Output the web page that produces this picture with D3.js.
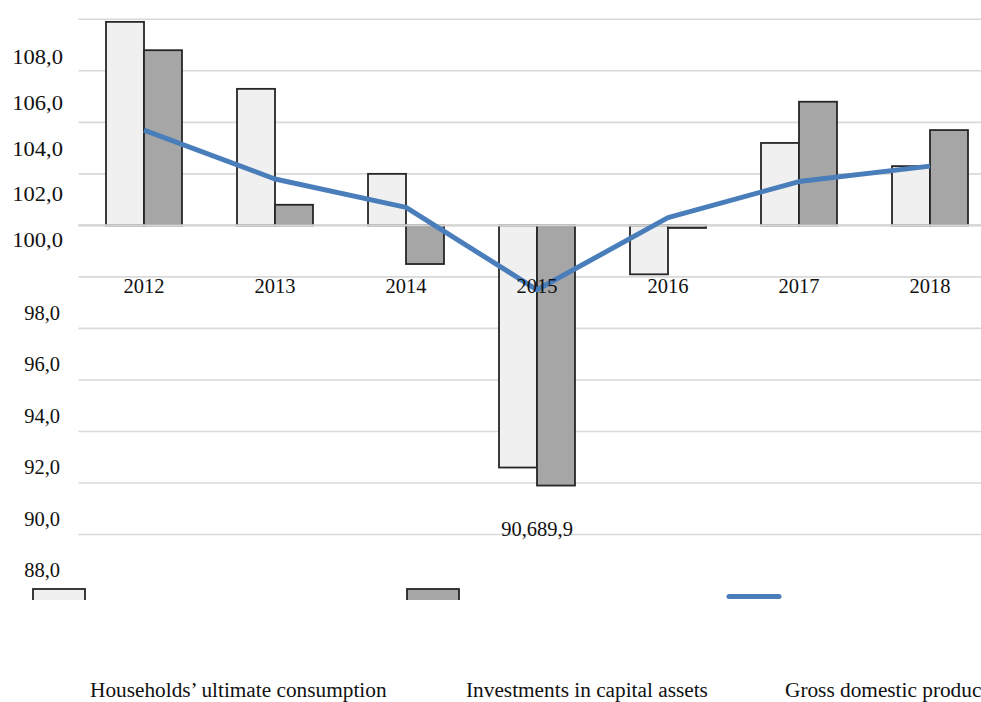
<!DOCTYPE html>
<html><head><meta charset="utf-8">
<script src="https://cdn.jsdelivr.net/npm/d3@7/dist/d3.min.js"></script>
<style>html,body{margin:0;padding:0;background:#fff;overflow:hidden}</style>
</head><body>
<script>
// ---- data ----
const years = ["2012","2013","2014","2015","2016","2017","2018"];
const households = [107.9, 105.3, 102.0, 90.6, 98.1, 103.2, 102.3];
const investments = [106.8, 100.8, 98.5, 89.9, 99.9, 104.8, 103.7];
const gdp = [103.7, 101.8, 100.7, 97.5, 100.3, 101.7, 102.3];
const yTicks = [88, 90, 92, 94, 96, 98, 100, 102, 104, 106, 108];
const labelledYears = ["2015"];
const seriesNames = ["Households\u2019 ultimate consumption", "Investments in capital assets", "Gross domestic produc"];

const W = 981, H = 702;
const FONT = "'Liberation Serif','Times New Roman',serif";
const svg = d3.select("body").append("svg").attr("width", W).attr("height", H)
  .style("font-family", FONT);
svg.append("rect").attr("width", W).attr("height", H).attr("fill", "#fff");

const x = d3.scaleBand().domain(years).range([78.5, 995.5]).paddingInner(0.42).paddingOuter(0.21);
const y = d3.scaleLinear().domain([88, 108]).range([534.5, 19.3]);
// tick labels in the source are displaced from their gridlines
const yLab = d3.scaleLinear().domain([88, 98, 100, 108]).range([570, 312.7, 240, 56.7]);
const base = 100;

// gridlines
svg.append("g").selectAll("line").data(yTicks).join("line")
  .attr("x1", 78.5).attr("x2", W)
  .attr("y1", d => y(d)).attr("y2", d => y(d))
  .attr("stroke", "#d9d9d9").attr("stroke-width", 1.6);

// y tick labels
svg.append("g").selectAll("text").data(yTicks).join("text")
  .attr("transform", d => `translate(${d >= 100 ? 63 : 60},${yLab(d)}) scale(${d >= 100 ? 1.1 : 1},1)`)
  .attr("text-anchor", "end").attr("dy", "0.35em")
  .attr("font-size", 20.5).attr("fill", "#111")
  .text(d => d3.format(".1f")(d).replace(".", ","));

// bars
const bw = x.bandwidth() / 2;
const bars = svg.append("g");
function drawBars(vals, offset, fill) {
  bars.append("g").selectAll("rect").data(years).join("rect")
    .attr("x", (d) => x(d) + offset)
    .attr("width", bw)
    .attr("y", (d, i) => Math.min(y(vals[i]), y(base)))
    .attr("height", (d, i) => Math.abs(y(vals[i]) - y(base)))
    .attr("fill", fill).attr("stroke", "#262626").attr("stroke-width", 1.8);
}
drawBars(households, 0, "#f0f0f0");
drawBars(investments, bw, "#a6a6a6");

// baseline gridline over the bars
svg.append("line").attr("x1", 78.5).attr("x2", W).attr("y1", y(base)).attr("y2", y(base))
  .attr("stroke", "#d4d4d4").attr("stroke-width", 2.4);

// data labels
const fmt = v => d3.format(".1f")(v).replace(".", ",");
const lab = svg.append("g").attr("font-size", 20.5).attr("fill", "#111");
years.forEach((yr, i) => {
  if (!labelledYears.includes(yr)) return;
  const cx = x(yr) + x.bandwidth() / 2;
  lab.append("text").attr("x", cx).attr("y", y(88) + 1).attr("text-anchor", "end").text(fmt(households[i]));
  lab.append("text").attr("x", cx).attr("y", y(88) + 1).attr("text-anchor", "start").text(fmt(investments[i]));
});

// GDP line
const line = d3.line().x((d, i) => x(years[i]) + x.bandwidth() / 2).y(d => y(d));
svg.append("path").datum(gdp).attr("d", line)
  .attr("fill", "none").attr("stroke", "#4a7ebb").attr("stroke-width", 5)
  .attr("stroke-linejoin", "round");

// year labels
svg.append("g").selectAll("text").data(years).join("text")
  .attr("x", d => x(d) + x.bandwidth() / 2).attr("y", 293)
  .attr("text-anchor", "middle").attr("font-size", 20.5).attr("fill", "#111")
  .text(d => d);

// legend
const defs = svg.append("defs");
defs.append("clipPath").attr("id", "legclip").append("rect")
  .attr("x", 0).attr("y", 0).attr("width", W).attr("height", 600);
const leg = svg.append("g");
const legSw = [33, 407, 727];
const legTx = [90, 466, 785];
const legFill = ["#f0f0f0", "#a6a6a6"];
[0, 1].forEach(i => {
  leg.append("rect").attr("x", legSw[i]).attr("y", 589).attr("width", 52).attr("height", 20)
    .attr("fill", legFill[i]).attr("stroke", "#262626").attr("stroke-width", 1.8)
    .attr("clip-path", "url(#legclip)");
});
leg.append("line").attr("x1", legSw[2] + 2).attr("x2", legSw[2] + 52).attr("y1", 596.5).attr("y2", 596.5)
  .attr("stroke", "#4a7ebb").attr("stroke-width", 5).attr("stroke-linecap", "round");
seriesNames.forEach((n, i) => {
  leg.append("text").attr("x", legTx[i]).attr("y", 697).attr("font-size", 21.3).attr("fill", "#111").text(n);
});
</script>
</body></html>
